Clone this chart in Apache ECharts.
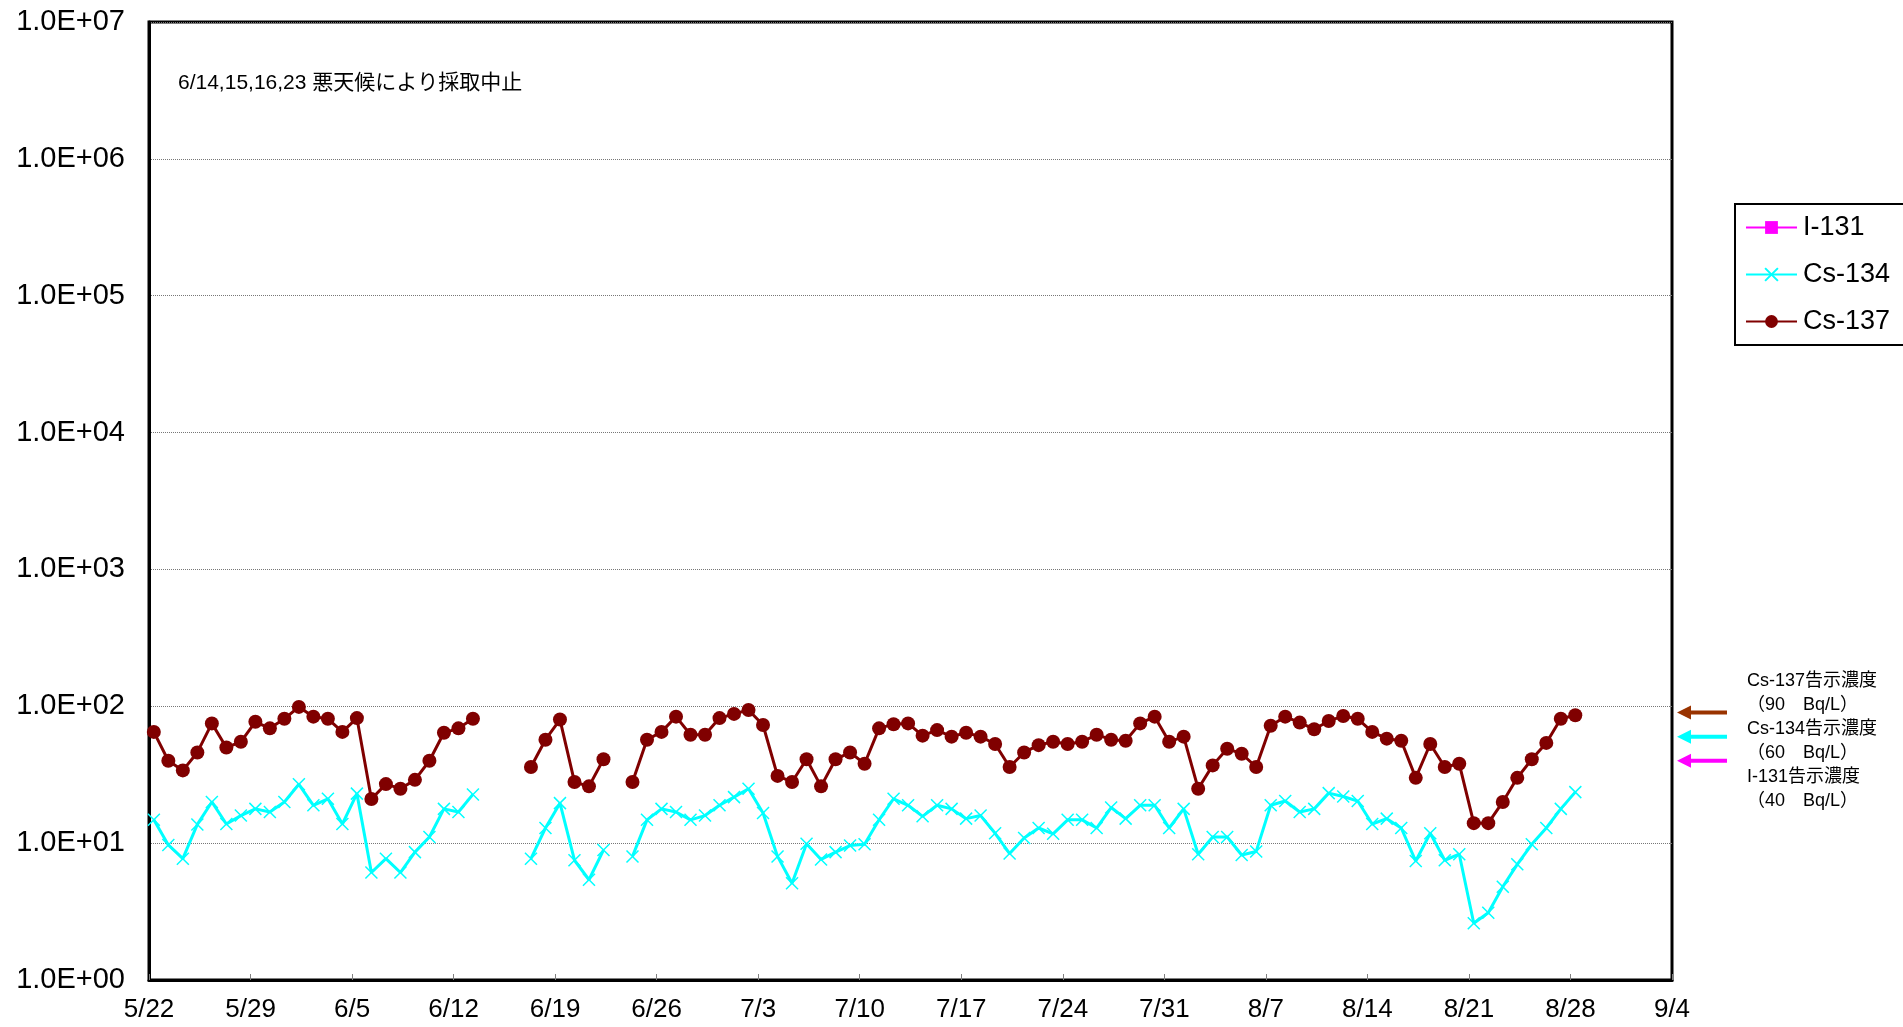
<!DOCTYPE html>
<html>
<head>
<meta charset="utf-8">
<script src="https://cdn.jsdelivr.net/npm/echarts@6/dist/echarts.min.js"></script>
<style>
html,body{margin:0;padding:0;background:#fff;}
#c{width:1903px;height:1027px;}
</style>
</head>
<body>
<div id="c"></div>
<script>
// ---- data ----
const startDate = [2011, 5, 22];           // first sampling day (y, m, d)
const sampleHour = 8;                      // approx. sampling time of day
const axisDays = 105;                      // axis span: 5/22 .. 9/4
const tickDays = 7;
const yTicks = ['1.0E+00','1.0E+01','1.0E+02','1.0E+03','1.0E+04','1.0E+05','1.0E+06','1.0E+07'];

// daily values 5/22 .. 8/28 (null = no sampling: 6/14,15,16,23)
const i131 = new Array(99).fill(null);
const cs134 = [
  14.8, 9.7, 7.7, 13.7, 20, 13.8, 15.9, 17.8, 16.9, 20,
  26.9, 18.9, 21.1, 13.8, 23, 6.1, 7.7, 6.1, 8.6, 11.1,
  17.8, 16.9, 22.7, null, null, null, 7.7, 12.9, 19.6, 7.5,
  5.4, 8.9, null, 8.0, 14.8, 17.8, 16.9, 14.8, 15.9, 18.9,
  21.7, 25, 16.6, 8.0, 5.1, 9.9, 7.6, 8.6, 9.6, 9.8,
  14.8, 21.1, 18.9, 15.7, 18.9, 17.8, 15.1, 15.9, 11.8, 8.4,
  10.9, 12.9, 11.7, 14.8, 14.8, 12.9, 18.2, 15.1, 18.9, 18.9,
  12.9, 17.8, 8.3, 11.1, 11.1, 8.2, 8.7, 18.9, 20.3, 16.9,
  17.8, 23.2, 21.9, 20.3, 13.8, 15.1, 12.9, 7.4, 11.8, 7.5,
  8.3, 2.6, 3.1, 4.8, 7.0, 9.8, 12.9, 17.8, 23.6
];
const cs137 = [
  65, 40, 34, 46, 75, 50, 55, 77, 69, 81,
  99, 84, 81, 65, 82, 21, 27, 25, 29, 40,
  64, 69, 81, null, null, null, 36, 57, 80, 28,
  26, 41, null, 28, 57, 65, 84, 62, 62, 82,
  88, 94, 73, 31, 28, 41, 26, 41, 46, 38,
  69, 74, 75, 61, 67, 60, 64, 60, 53, 36,
  46, 52, 55, 53, 55, 62, 57, 56, 75, 84,
  55, 60, 25, 37, 49, 45, 36, 72, 84, 76,
  68, 78, 85, 81, 65, 58, 56, 30, 53, 36,
  38, 14, 14, 20, 30, 41, 54, 81, 86
];
const limits = [
  {name: 'Cs-137', value: 90, label: 'Cs-137告示濃度', sub: '（90　Bq/L）', color: '#993300'},
  {name: 'Cs-134', value: 60, label: 'Cs-134告示濃度', sub: '（60　Bq/L）', color: '#00FFFF'},
  {name: 'I-131',  value: 40, label: 'I-131告示濃度',  sub: '（40　Bq/L）', color: '#FF00FF'}
];
const noteText = '6/14,15,16,23 悪天候により採取中止';

// ---- helpers ----
const t0 = new Date(startDate[0], startDate[1]-1, startDate[2]);
function dayLabel(v){
  const d = new Date(t0.getTime() + v*86400000);
  return (d.getMonth()+1) + '/' + d.getDate();
}
function pairs(arr){
  return arr.map((v,i)=>[i + sampleHour/24, v]);
}
const FONT = '"Liberation Sans", Arial, "Noto Sans CJK JP", sans-serif';
const crossPath = 'path://M0,0L10,10M10,0L0,10';

const chart = echarts.init(document.getElementById('c'));
chart.setOption({
  animation: false,
  backgroundColor: '#fff',
  textStyle: {fontFamily: FONT, color: '#000'},
  grid: {left: 149, right: 231, top: 22, bottom: 47, show: true, borderColor: '#000', borderWidth: 3, backgroundColor: 'transparent'},
  xAxis: {
    type: 'value', min: 0, max: axisDays, interval: tickDays,
    axisLine: {show: true, lineStyle: {color: '#000', width: 3}},
    axisTick: {show: true, inside: true, length: 6, lineStyle: {color: '#808080', width: 1}},
    splitLine: {show: false},
    axisLabel: {fontSize: 26, color: '#000', margin: 17, fontFamily: FONT, formatter: v => dayLabel(v)}
  },
  yAxis: {
    type: 'log', logBase: 10, min: 1, max: 1e7,
    axisLine: {show: true, lineStyle: {color: '#000', width: 3}},
    axisTick: {show: false},
    splitLine: {show: true, lineStyle: {color: '#777', type: 'dotted', width: 1}},
    axisLabel: {fontSize: 29, color: '#000', margin: 24, fontFamily: FONT,
      formatter: v => yTicks[Math.round(Math.log10(v))] }
  },
  legend: {
    orient: 'vertical', left: 1735, top: 204,
    data: ['I-131', 'Cs-134', 'Cs-137'],
    itemWidth: 51, itemHeight: 16, itemGap: 20,
    padding: [10, 200, 10, 10],
    borderColor: '#000', borderWidth: 2, backgroundColor: '#fff',
    textStyle: {fontSize: 27, color: '#000', fontFamily: FONT, padding: [0,0,0,1]}
  },
  series: [
    {name: 'I-131', type: 'line', data: pairs(i131), symbol: 'rect', symbolSize: 12,
      lineStyle: {color: '#FF00FF', width: 2}, itemStyle: {color: '#FF00FF'}},
    {name: 'Cs-134', type: 'line', data: pairs(cs134), symbol: crossPath, symbolSize: 12,
      showAllSymbol: true, connectNulls: false,
      lineStyle: {color: '#00FFFF', width: 3},
      itemStyle: {color: 'rgba(0,0,0,0)', borderColor: '#00FFFF', borderWidth: 1.5}},
    {name: 'Cs-137', type: 'line', data: pairs(cs137), symbol: 'circle', symbolSize: 14,
      showAllSymbol: true, connectNulls: false,
      lineStyle: {color: '#800000', width: 3}, itemStyle: {color: '#800000'}}
  ]
});

// right-hand limit arrows placed at their concentrations on the log axis
const graphics = [];
const xTip = 1677, xTail = 1727;
limits.forEach(l => {
  const y = chart.convertToPixel({yAxisIndex: 0}, l.value);
  graphics.push({type: 'line', shape: {x1: xTip + 12, y1: y, x2: xTail, y2: y},
    style: {stroke: l.color, lineWidth: 4}, silent: true});
  graphics.push({type: 'polygon', shape: {points: [[xTip, y], [xTip + 14, y - 7], [xTip + 14, y + 7]]},
    style: {fill: l.color}, silent: true});
});
const lines = [];
limits.forEach(l => { lines.push(l.label); lines.push(l.sub); });
graphics.push({type: 'text', left: 1747, top: 669, silent: true,
  style: {text: lines.join('\n'), font: '18px ' + FONT, fill: '#000', lineHeight: 24}});
graphics.push({type: 'text', left: 178, top: 73, silent: true,
  style: {text: noteText, font: '21px ' + FONT, fill: '#000'}});
chart.setOption({graphic: graphics});
</script>
</body>
</html>
